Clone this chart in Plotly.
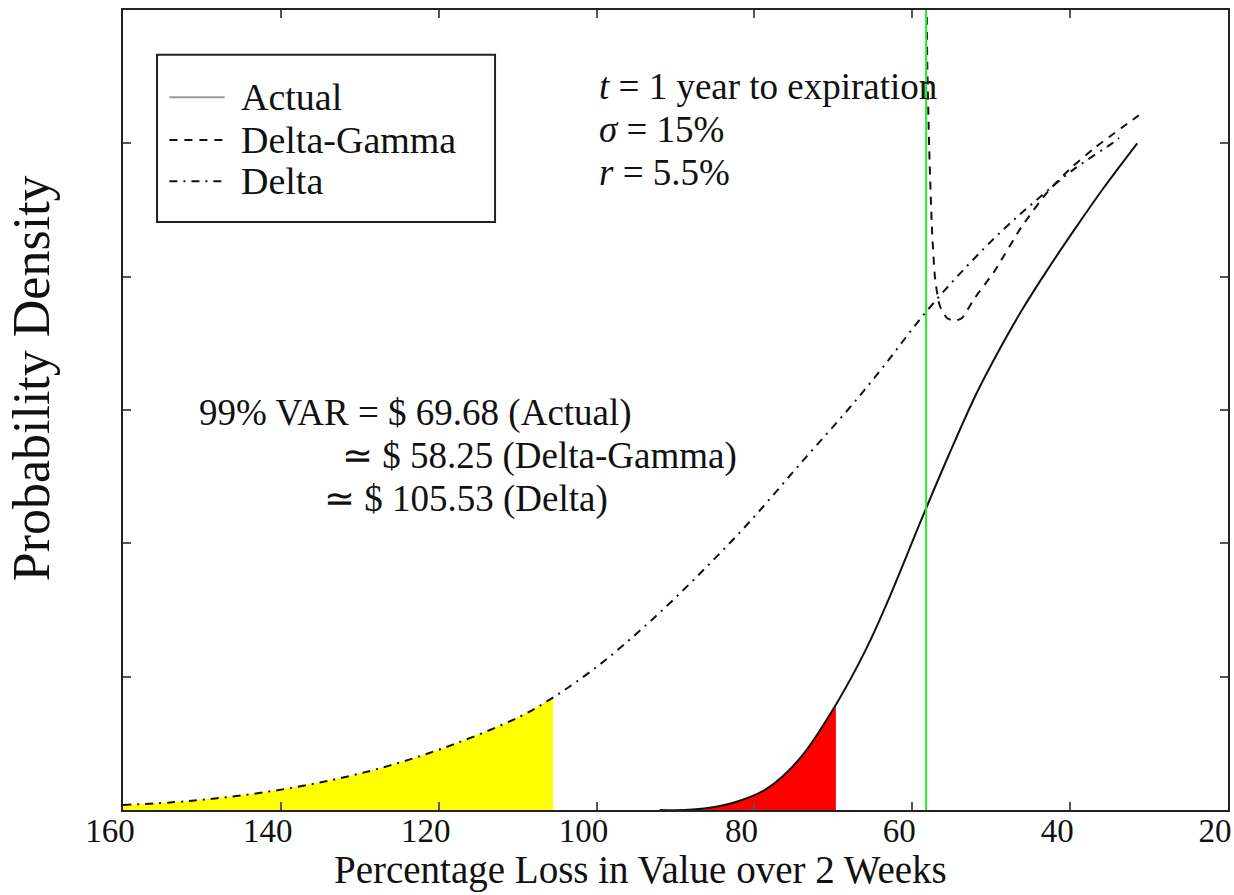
import plotly.graph_objects as go

# ---- data ----
delta_x = [160, 151.9, 143.55, 135.06, 126.58, 118.23, 109.75, 105.53, 99.62, 93.29, 86.96, 80.63, 74.3, 67.97, 63.8, 58.48, 53.54, 48.35, 44.56, 40.63, 38.48, 34.68, 33.8]
delta_y = [0.0375, 0.066, 0.121, 0.206, 0.327, 0.49, 0.70, 0.843, 1.09, 1.41, 1.77, 2.16, 2.59, 3.015, 3.315, 3.72, 4.05, 4.36, 4.56, 4.755, 4.85, 5.0, 5.04]

actual_x = [92, 87.85, 82.78, 78.48, 74.3, 69.68, 65.82, 63.29, 58.48, 55.32, 51.9, 48.99, 46.2, 42.78, 39.37, 35.95, 31.5]
actual_y = [0.0, 0.003, 0.053, 0.158, 0.383, 0.79, 1.21, 1.54, 2.23, 2.67, 3.12, 3.45, 3.74, 4.06, 4.36, 4.65, 5.0]

dg_x = [58.22, 58.1, 57.85, 57.5, 57.1, 56.5, 55.6, 54.6, 53.7, 52.2, 49.6, 46.2, 42.8, 39.8, 36.8, 31.3]
dg_y = [6.4, 5.6, 4.95, 4.35, 3.98, 3.78, 3.69, 3.67, 3.69, 3.83, 4.04, 4.37, 4.64, 4.82, 4.97, 5.21]

var_actual = 69.68
var_dg = 58.25
var_delta = 105.53

x_ticks = [160, 140, 120, 100, 80, 60, 40, 20]
y_ticks = [0, 1, 2, 3, 4, 5, 6]

FONT = "Liberation Serif"
INK = "#111111"

fig = go.Figure()

# shaded tails
yx = [x for x in delta_x if x >= var_delta]
yy = [y for x, y in zip(delta_x, delta_y) if x >= var_delta]
fig.add_trace(go.Scatter(x=yx, y=yy, mode="lines", fill="tozeroy",
                         fillcolor="#ffff00", line=dict(width=0, shape="spline", smoothing=1.0),
                         hoverinfo="skip", showlegend=False))
rx = [x for x in actual_x if x >= var_actual]
ry = [y for x, y in zip(actual_x, actual_y) if x >= var_actual]
fig.add_trace(go.Scatter(x=rx, y=ry, mode="lines", fill="tozeroy",
                         fillcolor="#ff0000", line=dict(width=0, shape="spline", smoothing=1.0),
                         hoverinfo="skip", showlegend=False))

# curves
fig.add_trace(go.Scatter(x=actual_x, y=actual_y, mode="lines", name="Actual",
                         line=dict(color=INK, width=2, shape="spline", smoothing=1.0),
                         showlegend=False))
fig.add_trace(go.Scatter(x=dg_x, y=dg_y, mode="lines", name="Delta-Gamma",
                         line=dict(color=INK, width=2, dash="8px,7px", shape="spline", smoothing=0.6),
                         showlegend=False))
fig.add_trace(go.Scatter(x=delta_x, y=delta_y, mode="lines", name="Delta",
                         line=dict(color=INK, width=2, dash="8px,6px,2px,6px", shape="spline", smoothing=1.0),
                         showlegend=False))

# green VaR line
fig.add_shape(type="line", xref="x", yref="paper", x0=var_dg, x1=var_dg, y0=0, y1=1,
              line=dict(color="#22ee22", width=2))

# manual legend (box, samples, labels)
fig.add_shape(type="rect", xref="paper", yref="paper", x0=0.0308, x1=0.3367, y0=0.735, y1=0.944,
              line=dict(color="#222222", width=2), fillcolor="rgba(255,255,255,0)")
leg = [("Actual", 0.891, None, "#999999"),
       ("Delta-Gamma", 0.8375, "8px,7px", INK),
       ("Delta", 0.786, "8px,6px,2px,6px", INK)]
for name, yy_, dash, col in leg:
    fig.add_shape(type="line", xref="paper", yref="paper", x0=0.042, x1=0.092, y0=yy_, y1=yy_,
                  line=dict(color=col, width=2, dash=dash if dash else "solid"))
    fig.add_annotation(text=name, xref="paper", yref="paper", x=0.105, y=yy_,
                       xanchor="left", yanchor="middle", showarrow=False,
                       font=dict(family=FONT, size=38, color=INK))

# parameter text
params = ["<i>t</i> = 1 year to expiration", "<i>σ</i> = 15%", "<i>r</i> = 5.5%"]
for txt, yy_ in zip(params, [0.90375, 0.8506, 0.7975]):
    fig.add_annotation(text=txt, xref="paper", yref="paper", x=0.429, y=yy_,
                       xanchor="left", yanchor="middle", showarrow=False,
                       font=dict(family=FONT, size=37, color=INK))

# VaR text
var_lines = [("99% VAR = $ 69.68 (Actual)", 0.067, 0.49625),
             ("≃ $ 58.25 (Delta-Gamma)", 0.196, 0.4425),
             ("≃ $ 105.53 (Delta)", 0.180, 0.38875)]
for txt, xx_, yy_ in var_lines:
    fig.add_annotation(text=txt, xref="paper", yref="paper", x=xx_, y=yy_,
                       xanchor="left", yanchor="middle", showarrow=False,
                       font=dict(family=FONT, size=37, color=INK))

# axis titles
fig.add_annotation(text="Percentage Loss in Value over 2 Weeks", xref="paper", yref="paper",
                   x=0.468, y=-0.075, xanchor="center", yanchor="middle", showarrow=False,
                   font=dict(family=FONT, size=39, color=INK))
fig.add_annotation(text="Probability Density", xref="paper", yref="paper",
                   x=-0.083, y=0.54, xanchor="center", yanchor="middle", showarrow=False,
                   textangle=-90, font=dict(family=FONT, size=52, color=INK))

axis_common = dict(showline=True, linecolor="#222222", linewidth=2, mirror="ticks",
                   ticks="inside", ticklen=8, tickwidth=1.5, tickcolor="#555555",
                   showgrid=False, zeroline=False, automargin=False)

fig.update_xaxes(range=[160, 20], tickvals=x_ticks, ticktext=[str(v) for v in x_ticks],
                 tickfont=dict(family=FONT, size=33, color=INK),
                 ticklabelshift=13, ticklabelstandoff=-10, ticklabeloverflow="allow",
                 **axis_common)
fig.update_yaxes(range=[0, 6], tickvals=y_ticks, showticklabels=False, **axis_common)

fig.update_layout(width=1234, height=895, margin=dict(l=123, r=6, t=10, b=85, autoexpand=False),
                  plot_bgcolor="white", paper_bgcolor="white", showlegend=False)

fig.write_html("out.html")
